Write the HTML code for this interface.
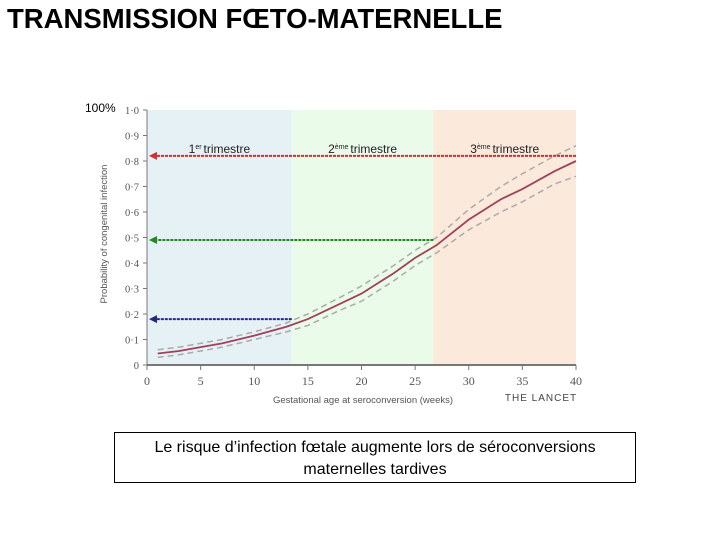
<!DOCTYPE html>
<html><head><meta charset="utf-8"><style>
body{margin:0;width:720px;height:540px;background:#fff;position:relative;overflow:hidden;font-family:"Liberation Sans",sans-serif}
#title{position:absolute;left:7px;top:3px;font-size:27.5px;font-weight:bold;color:#000;white-space:nowrap}
#caption{position:absolute;left:114px;top:432px;width:522px;height:51px;border:1px solid #000;font-size:16px;text-align:center;line-height:22px;padding-top:4px;box-sizing:border-box}
</style></head><body>
<div id="title">TRANSMISSION FŒTO-MATERNELLE</div>
<svg id="chart" width="720" height="540" style="position:absolute;left:0;top:0"></svg>
<div id="caption">Le risque d’infection fœtale augmente lors de séroconversions maternelles tardives</div>
<script>
const weeks=[1,3,5,7,10,13,15,18,20,23,25,27,30,33,35,38,40];
const prob=[0.045,0.055,0.07,0.085,0.115,0.15,0.18,0.24,0.28,0.36,0.42,0.47,0.57,0.65,0.69,0.76,0.80];
const upper=[0.06,0.07,0.085,0.10,0.13,0.165,0.20,0.265,0.31,0.39,0.45,0.50,0.61,0.70,0.75,0.82,0.86];
const lower=[0.03,0.04,0.055,0.07,0.10,0.13,0.155,0.215,0.25,0.33,0.39,0.44,0.53,0.60,0.64,0.71,0.74];
const xTicks=[0,5,10,15,20,25,30,35,40];
const yTicks=[0,0.1,0.2,0.3,0.4,0.5,0.6,0.7,0.8,0.9,1.0];
const bandEdges=[0,13.5,26.7,40];
const bandNums=["1","2","3"];
const bandSups=["er","ème","ème"];
const arrowVals=[0.82,0.49,0.18];
const arrowFrom=[40,26.7,13.5];
const X=w=>147+w*(576-147)/40, Y=p=>365-p*255;
const svg=document.getElementById('chart'),NS='http://www.w3.org/2000/svg';
function mk(t,a,p){const e=document.createElementNS(NS,t);for(const k in a)e.setAttribute(k,a[k]);(p||svg).appendChild(e);return e;}
const bandColors=['#e6f1f6','#eafbea','#fbe9dc'];
bandEdges.slice(0,3).forEach((b,i)=>{const r=mk('rect',{x:X(b),y:Y(1),width:X(bandEdges[i+1])-X(b),height:Y(0)-Y(1),fill:bandColors[i]});


const t=mk('text',{x:(X(b)+X(bandEdges[i+1]))/2,y:153,'text-anchor':'middle','font-size':12,fill:'#222'});


const s1=mk('tspan',{},t);s1.textContent=bandNums[i];
const s2=mk('tspan',{'font-size':7,dy:-4},t);s2.textContent=bandSups[i]+' ';
const s3=mk('tspan',{dy:4},t);s3.textContent='trimestre';});
mk('line',{x1:X(0),y1:Y(0),x2:X(40),y2:Y(0),stroke:'#777','stroke-width':2});
mk('line',{x1:X(0),y1:Y(0),x2:X(0),y2:Y(1),stroke:'#777','stroke-width':1});
yTicks.forEach(v=>{mk('line',{x1:X(0)-4,y1:Y(v),x2:X(0),y2:Y(v),stroke:'#777'});
const t=mk('text',{x:X(0)-8,y:Y(v)+4,'text-anchor':'end','font-size':10.5,fill:'#555','font-family':'Liberation Serif'});t.textContent=v===0?'0':v.toFixed(1).replace('.','·');

});
xTicks.forEach(v=>{mk('line',{x1:X(v),y1:Y(0),x2:X(v),y2:Y(0)+5,stroke:'#777'});
const t=mk('text',{x:X(v),y:Y(0)+20,'text-anchor':'middle','font-size':12,fill:'#555','font-family':'Liberation Serif'});t.textContent=v;

});
let t=mk('text',{x:363,y:403,'text-anchor':'middle','font-size':9.5,fill:'#555'});t.textContent='Gestational age at seroconversion (weeks)';

t=mk('text',{x:107,y:234,'text-anchor':'middle','font-size':9.5,fill:'#555',transform:'rotate(-90 107 234)'});t.textContent='Probability of congenital infection';

t=mk('text',{x:541,y:401,'text-anchor':'middle','font-size':10,fill:'#444','letter-spacing':1});t.textContent='THE LANCET';

t=mk('text',{x:85,y:112,'font-size':12,fill:'#000'});t.textContent='100%';

const pts=a=>weeks.map((w,i)=>X(w)+','+Y(a[i])).join(' ');
[upper,lower].forEach((a,i)=>{const l=mk('polyline',{points:pts(a),fill:'none',stroke:'#aaa','stroke-width':1.5,'stroke-dasharray':'6,4'});
});
const c=mk('polyline',{points:pts(prob),fill:'none',stroke:'#a0405a','stroke-width':1.8});

const ac=['#d03030','#208a20','#202a80'];
arrowVals.forEach((v,i)=>{const y=Y(v),g=mk('g',{});

mk('line',{x1:X(arrowFrom[i]),y1:y,x2:X(0)+8,y2:y,stroke:ac[i],'stroke-width':2,'stroke-dasharray':'3,1'},g);
mk('polygon',{points:`${X(0)+2},${y} ${X(0)+10},${y-4} ${X(0)+10},${y+4}`,fill:ac[i]},g);});
</script>
</body></html>
